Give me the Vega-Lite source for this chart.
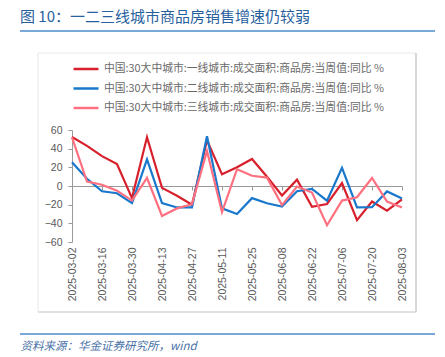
{
  "$schema": "https://vega.github.io/schema/vega-lite/v6.json",
  "width": 330,
  "height": 112,
  "autosize": "none",
  "padding": {"left": 72, "top": 130, "right": 43, "bottom": 115},
  "background": "white",
  "config": {"view": {"stroke": null}, "font": "Liberation Sans"},
  "title": {
    "text": "图 10：一二三线城市商品房销售增速仍较弱",
    "anchor": "start",
    "frame": "group",
    "dx": -52,
    "offset": 5,
    "fontSize": 15,
    "font": "Noto Sans CJK SC",
    "fontWeight": "normal",
    "color": "#2a5f9e"
  },
  "data": {
    "values": [
      {"date": "2025-03-02", "t1": 52.5, "t2": 25.5, "t3": 52},
      {"date": "2025-03-09", "t1": 43, "t2": 7.8, "t3": 4.8},
      {"date": "2025-03-16", "t1": 32, "t2": -5.6, "t3": 1.4},
      {"date": "2025-03-23", "t1": 23.5, "t2": -7.8, "t3": -5},
      {"date": "2025-03-30", "t1": -13, "t2": -18.3, "t3": -15.6},
      {"date": "2025-04-06", "t1": 52.4, "t2": 28.5, "t3": 8.6},
      {"date": "2025-04-13", "t1": -2, "t2": -18.4, "t3": -32},
      {"date": "2025-04-20", "t1": -10.5, "t2": -23, "t3": -24},
      {"date": "2025-04-27", "t1": -20, "t2": -23, "t3": -19.5},
      {"date": "2025-05-04", "t1": 49, "t2": 53.2, "t3": 37.5},
      {"date": "2025-05-11", "t1": 12.5, "t2": -24, "t3": -28},
      {"date": "2025-05-18", "t1": 20, "t2": -30, "t3": 18},
      {"date": "2025-05-25", "t1": 29, "t2": -13, "t3": 11},
      {"date": "2025-06-01", "t1": 10, "t2": -18.5, "t3": 9},
      {"date": "2025-06-08", "t1": -10.2, "t2": -22, "t3": -20.5},
      {"date": "2025-06-15", "t1": 6.8, "t2": -5.6, "t3": -0.6},
      {"date": "2025-06-22", "t1": -22.3, "t2": -3.2, "t3": -7},
      {"date": "2025-06-29", "t1": -19.3, "t2": -15.7, "t3": -42},
      {"date": "2025-07-06", "t1": 3.2, "t2": 19.5, "t3": -15.6},
      {"date": "2025-07-13", "t1": -36.5, "t2": -23, "t3": -12},
      {"date": "2025-07-20", "t1": -16.6, "t2": -22.8, "t3": 8.6},
      {"date": "2025-07-27", "t1": -26.5, "t2": -5.8, "t3": -16.6},
      {"date": "2025-08-03", "t1": -14.2, "t2": -13.4, "t3": -23}
    ]
  },
  "resolve": {"axis": {"x": "independent"}},
  "layer": [
    {
      "mark": {"type": "point", "opacity": 0},
      "encoding": {
        "x": {
          "field": "date",
          "type": "ordinal",
          "scale": {"type": "point", "padding": 0},
          "axis": {
            "orient": "bottom",
            "offset": -56,
            "labels": false,
            "title": null,
            "domain": true,
            "domainColor": "#9a9a9a",
            "ticks": true,
            "tickColor": "#9a9a9a",
            "tickSize": 4,
            "values": ["2025-03-02", "2025-03-16", "2025-03-30", "2025-04-13", "2025-04-27", "2025-05-11", "2025-05-25", "2025-06-08", "2025-06-22", "2025-07-06", "2025-07-20", "2025-08-03"]
          }
        },
        "y": {
          "datum": 0,
          "type": "quantitative",
          "axis": {
            "values": [-60, -40, -20, 0, 20, 40, 60],
            "title": null,
            "grid": false,
            "domainColor": "#9a9a9a",
            "tickColor": "#9a9a9a",
            "tickSize": 4,
            "labelPadding": 6,
            "labelFontSize": 10.5,
            "labelColor": "#595959"
          }
        }
      }
    },
    {
      "transform": [{"fold": ["t1", "t2", "t3"], "as": ["series", "value"]}],
      "mark": {"type": "line", "strokeWidth": 2.2},
      "encoding": {
        "x": {
          "field": "date",
          "type": "ordinal",
          "scale": {"type": "point", "padding": 0},
          "axis": {
            "orient": "bottom",
            "domain": false,
            "ticks": false,
            "labelAngle": 270,
            "labelFontSize": 10.5,
            "labelColor": "#595959",
            "labelPadding": 5,
            "values": ["2025-03-02", "2025-03-16", "2025-03-30", "2025-04-13", "2025-04-27", "2025-05-11", "2025-05-25", "2025-06-08", "2025-06-22", "2025-07-06", "2025-07-20", "2025-08-03"],
            "title": "资料来源：华金证券研究所，wind",
            "titleAnchor": "start",
            "titleAlign": "left",
            "titleX": -52,
            "titleY": 104,
            "titleBaseline": "middle",
            "titleFont": "Noto Sans CJK SC",
            "titleFontSize": 11.5,
            "titleFontStyle": "italic",
            "titleFontWeight": "normal",
            "titleColor": "#4a72a8"
          }
        },
        "y": {
          "field": "value",
          "type": "quantitative",
          "scale": {"domain": [-60, 60], "nice": false},
          "axis": {
            "values": [-60, -40, -20, 0, 20, 40, 60],
            "title": null,
            "grid": false,
            "domainColor": "#9a9a9a",
            "tickColor": "#9a9a9a",
            "tickSize": 4,
            "labelPadding": 6,
            "labelFontSize": 10.5,
            "labelColor": "#595959"
          }
        },
        "color": {
          "field": "series",
          "type": "nominal",
          "scale": {"domain": ["t1", "t2", "t3"], "range": ["#d8202c", "#1a78cc", "#ff7080"]},
          "legend": {
            "orient": "none",
            "legendX": 0,
            "legendY": -68,
            "title": null,
            "symbolType": "stroke",
            "symbolSize": 625,
            "symbolStrokeWidth": 2.5,
            "clipHeight": 14,
            "rowPadding": 5.5,
            "labelOffset": 4,
            "labelFont": "Noto Sans CJK SC",
            "labelFontSize": 10.8,
            "labelColor": "#6a6a6a",
            "labelLimit": 400,
            "labelExpr": "datum.value == 't1' ? '中国:30大中城市:一线城市:成交面积:商品房:当周值:同比 %' : datum.value == 't2' ? '中国:30大中城市:二线城市:成交面积:商品房:当周值:同比 %' : '中国:30大中城市:三线城市:成交面积:商品房:当周值:同比 %'"
          }
        }
      }
    },
    {
      "data": {"values": [{}]},
      "mark": {"type": "rule", "stroke": "#7aa9d8", "strokeWidth": 2},
      "encoding": {"x": {"value": -52}, "x2": {"value": 363}, "y": {"value": -99}}
    },
    {
      "data": {"values": [{}]},
      "mark": {"type": "rule", "stroke": "#7aa9d8", "strokeWidth": 2},
      "encoding": {"x": {"value": -52}, "x2": {"value": 363}, "y": {"value": 204}}
    },
    {
      "data": {"values": [{}]},
      "mark": {"type": "rect", "fill": null, "stroke": "#e8e8e8", "strokeWidth": 1},
      "encoding": {"x": {"value": -34}, "x2": {"value": 344}, "y": {"value": -77}, "y2": {"value": 182}}
    },
    {
      "data": {"values": [{}]},
      "mark": {"type": "rule", "stroke": "#bdbdbd", "strokeWidth": 1},
      "encoding": {"x": {"value": 344}, "y": {"value": -77}, "y2": {"value": 182}}
    },
    {
      "data": {"values": [{}]},
      "mark": {"type": "rule", "stroke": "#cfcfcf", "strokeWidth": 1},
      "encoding": {"x": {"value": -34}, "x2": {"value": 344}, "y": {"value": 182}}
    }
  ]
}
